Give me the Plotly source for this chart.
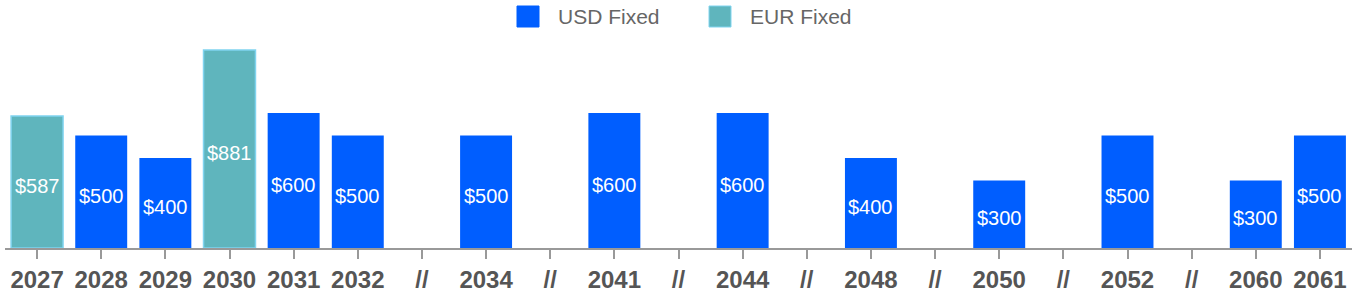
import plotly.graph_objects as go

categories = ["2027", "2028", "2029", "2030", "2031", "2032", "g1", "2034", "g2", "2041",
              "g3", "2044", "g4", "2048", "g5", "2050", "g6", "2052", "g7", "2060", "2061"]
tick_labels = ["2027", "2028", "2029", "2030", "2031", "2032", "//", "2034", "//", "2041",
               "//", "2044", "//", "2048", "//", "2050", "//", "2052", "//", "2060", "2061"]
usd_fixed = [None, 500, 400, None, 600, 500, None, 500, None, 600,
             None, 600, None, 400, None, 300, None, 500, None, 300, 500]
eur_fixed = [587, None, None, 881, None, None, None, None, None, None,
             None, None, None, None, None, None, None, None, None, None, None]

USD_COLOR = "#005eff"
EUR_COLOR = "#5fb5bd"
EUR_EDGE = "#80d4ef"
FONT = "Liberation Sans, Arial, sans-serif"

W, H = 1358, 298
ML, MR, MT, MB = 5, 6, 40, 50
PW, PH = W - ML - MR, H - MT - MB


def px_x(p):
    return (p - ML) / PW


def px_y(p):
    return (H - MB - p) / PH


fig = go.Figure()
fig.add_trace(go.Bar(
    x=categories, y=usd_fixed, name="USD Fixed",
    marker=dict(color=USD_COLOR, line=dict(width=0)),
    hoverinfo="skip", showlegend=False))
fig.add_trace(go.Bar(
    x=categories, y=eur_fixed, name="EUR Fixed",
    marker=dict(color=EUR_COLOR, line=dict(width=1.5, color=EUR_EDGE)),
    hoverinfo="skip", showlegend=False))

annotations = []
# value labels, centred in each bar (x given as category index)
for series in (usd_fixed, eur_fixed):
    for i, v in enumerate(series):
        if v is None:
            continue
        annotations.append(dict(text=f"${v}", x=i, y=v / 2, xref="x", yref="y",
                                showarrow=False, yshift=-4,
                                font=dict(size=20, color="white", family=FONT)))

# manual legend (large square swatches)
legend_items = [("USD Fixed", USD_COLOR, USD_COLOR, 517, 556),
                ("EUR Fixed", EUR_COLOR, EUR_EDGE, 709, 748)]
shapes = []
for name, fill, edge, sx, tx in legend_items:
    shapes.append(dict(type="rect", xref="paper", yref="paper",
                       x0=px_x(sx), x1=px_x(sx + 22), y0=px_y(27), y1=px_y(6),
                       fillcolor=fill, line=dict(color=edge, width=1)))
    annotations.append(dict(text=name, xref="paper", yref="paper",
                            x=px_x(tx), y=px_y(17), xanchor="left", yanchor="middle",
                            showarrow=False, font=dict(size=21, color="#666666", family=FONT)))

fig.update_layout(
    width=W, height=H,
    margin=dict(l=ML, r=MR, t=MT, b=MB),
    barmode="overlay", bargap=0.19,
    plot_bgcolor="white", paper_bgcolor="white",
    font=dict(family=FONT, color="#666666"),
    showlegend=False,
    shapes=shapes, annotations=annotations,
    xaxis=dict(
        type="category", categoryorder="array", categoryarray=categories,
        range=[-0.5, len(categories) - 0.5],
        tickvals=categories, ticktext=tick_labels,
        showline=True, linecolor="#999999", linewidth=2,
        ticks="outside", ticklen=9, tickwidth=2, tickcolor="#999999",
        tickfont=dict(size=24, color="#555555", family=FONT, weight="bold"),
        showgrid=False, fixedrange=True, automargin=False),
    yaxis=dict(range=[0, 925], visible=False, showgrid=False, fixedrange=True,
               automargin=False),
)

fig.write_html("out.html")
